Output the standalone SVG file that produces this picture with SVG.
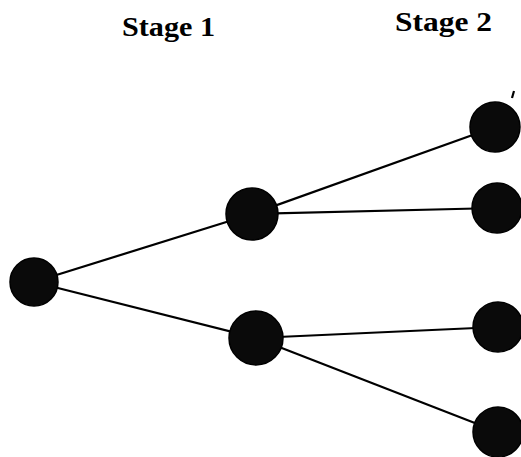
<svg xmlns="http://www.w3.org/2000/svg" width="521" height="457" viewBox="0 0 521 457">
  <style>
    .edge { stroke: #000; stroke-width: 2.2; fill: none; }
    .node { fill: #0a0a0a; stroke: #000; stroke-width: 1.5; }
    .title { font-family: "Liberation Serif", "Times New Roman", serif; font-weight: bold; font-size: 27px; fill: #000; }
  </style>
  <rect width="521" height="457" fill="#fff"/>
  <g id="labels">
    <text class="title" x="122" y="36" textLength="93" lengthAdjust="spacingAndGlyphs">Stage 1</text>
    <text class="title" x="395" y="31" textLength="97" lengthAdjust="spacingAndGlyphs">Stage 2</text>
  </g>
  <g id="connectors">
    <line class="edge" x1="34" y1="282" x2="252" y2="214"/>
    <line class="edge" x1="34" y1="282" x2="256" y2="338"/>
    <line class="edge" x1="252" y1="214" x2="495" y2="127"/>
    <line class="edge" x1="252" y1="214" x2="497" y2="208"/>
    <line class="edge" x1="256" y1="338" x2="498" y2="327"/>
    <line class="edge" x1="256" y1="338" x2="498" y2="432"/>
    <line class="edge" x1="512" y1="98" x2="514" y2="91" stroke-width="1.5"/>
  </g>
  <g id="root"><circle class="node" cx="34" cy="282" r="24"/></g>
  <g id="s1a"><circle class="node" cx="252" cy="214" r="26"/></g>
  <g id="s1b"><circle class="node" cx="256" cy="338" r="27"/></g>
  <g id="s2a"><circle class="node" cx="495" cy="127" r="25"/></g>
  <g id="s2b"><circle class="node" cx="497" cy="208" r="25"/></g>
  <g id="s2c"><circle class="node" cx="498" cy="327" r="25"/></g>
  <g id="s2d"><circle class="node" cx="498" cy="432" r="25"/></g>
</svg>
